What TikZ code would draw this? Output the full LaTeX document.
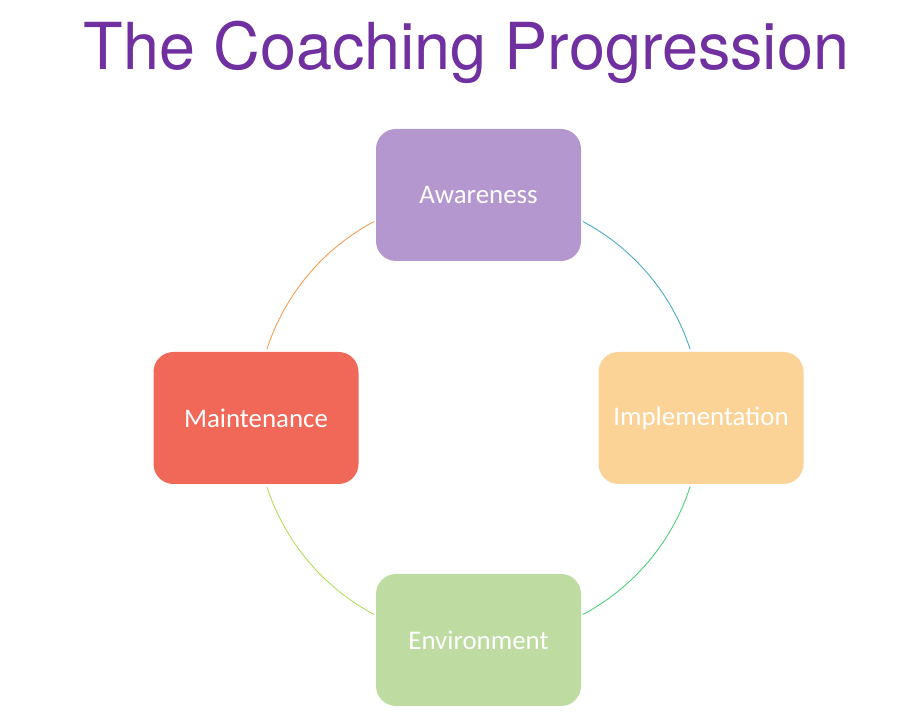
\documentclass[tikz,border=0pt]{standalone}
\usepackage{fontspec}
\setmainfont{Carlito}
\newfontfamily\titlefont{TeX Gyre Heros}
\definecolor{titlepurple}{HTML}{7030A0}
\definecolor{cawareness}{HTML}{B597CF}
\definecolor{cimpl}{HTML}{FBD397}
\definecolor{cmaint}{HTML}{F16858}
\definecolor{cenv}{HTML}{BEDBA1}
\definecolor{arcblue}{HTML}{4BACC6}
\definecolor{arcgreen}{HTML}{4ED27A}
\definecolor{arclime}{HTML}{B2E05A}
\definecolor{arcorange}{HTML}{F79E52}
\begin{document}
\begin{tikzpicture}[x=1bp,y=1bp,
  stagebox/.style={rounded corners=20bp, minimum width=205bp, minimum height=132bp,
    inner sep=0pt, text=white, font=\fontsize{27}{31}\selectfont},
  cyclearc/.style={line width=0.9bp}]
\useasboundingbox (0,0) rectangle (899,720);
\node[anchor=base, text=titlepurple, font=\titlefont\fontsize{65}{70}\selectfont] (title) at (466.5,650) {The Coaching Progression};
\coordinate (ctr) at (478.5,302);
\node[stagebox, fill=cawareness] (aw) at (478.5,525) {Awareness};
\node[stagebox, fill=cimpl] (im) at (701,302) {Implementation};
\node[stagebox, fill=cmaint] (ma) at (256,302) {Maintenance};
\node[stagebox, fill=cenv] (en) at (478.5,80) {Environment};
\draw[cyclearc, arcblue] ([shift={(62:222.5)}]ctr) arc[start angle=62, end angle=18, radius=222.5];
\draw[cyclearc, arcgreen] ([shift={(-18:222.5)}]ctr) arc[start angle=-18, end angle=-62, radius=222.5];
\draw[cyclearc, arclime] ([shift={(-118:222.5)}]ctr) arc[start angle=-118, end angle=-162, radius=222.5];
\draw[cyclearc, arcorange] ([shift={(162:222.5)}]ctr) arc[start angle=162, end angle=118, radius=222.5];
\end{tikzpicture}
\end{document}
